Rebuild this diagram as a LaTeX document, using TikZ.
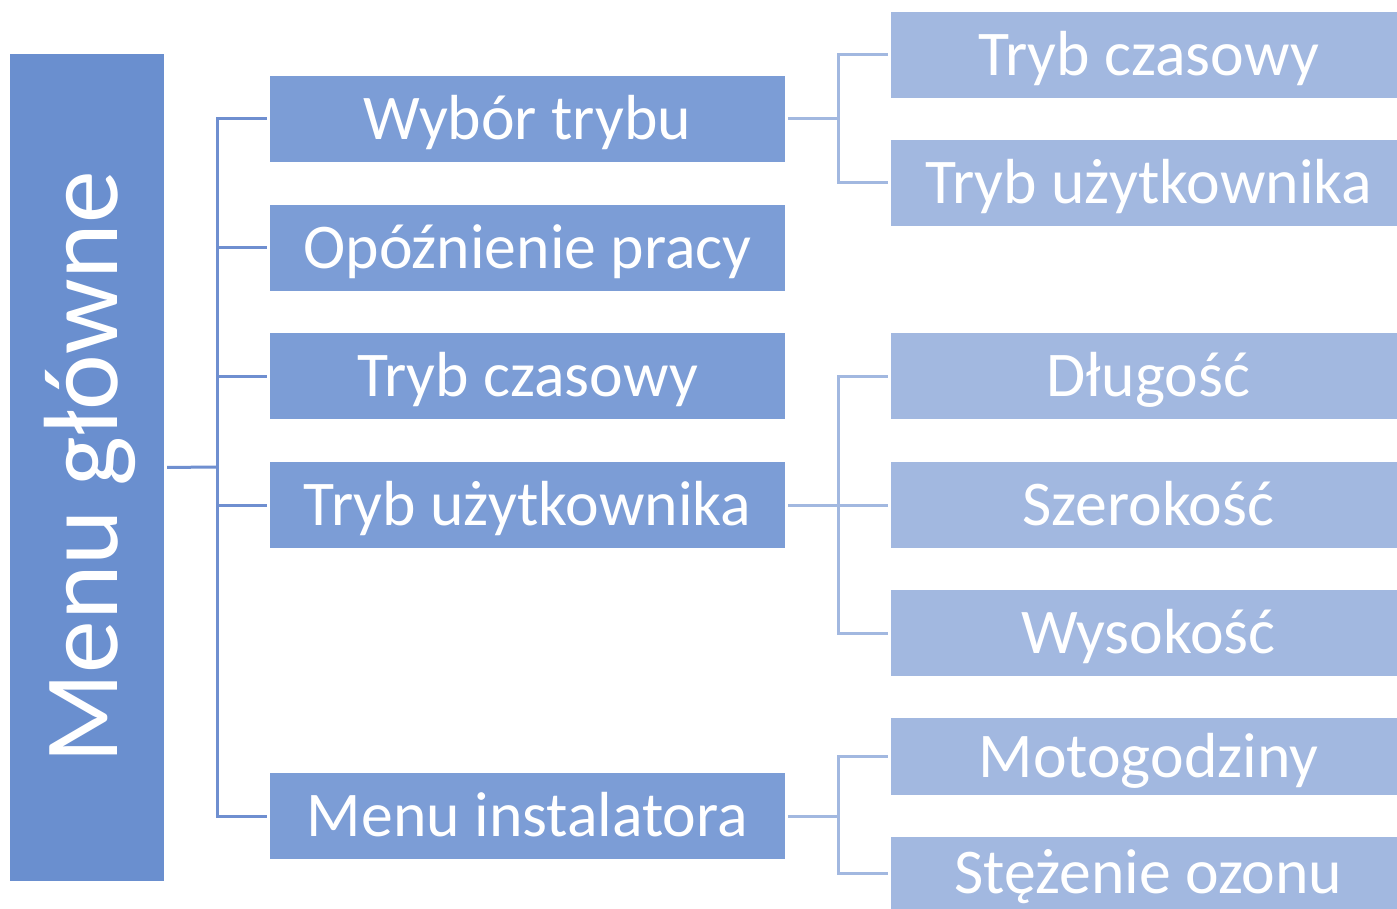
\documentclass[tikz,border=0pt]{standalone}
\usepackage{fontspec}
\setmainfont{Carlito}
\definecolor{mainfill}{HTML}{6A8FCF}
\definecolor{lvlone}{HTML}{7C9DD6}
\definecolor{lvltwo}{HTML}{A2B8E0}
\definecolor{conone}{HTML}{6F8FD0}
\definecolor{contwo}{HTML}{A2B8E0}
\begin{document}
\begin{tikzpicture}[x=1pt,y=-1pt,
  boxbase/.style={rectangle, inner sep=0pt, outer sep=0pt, text=white,
    font=\fontsize{63.7}{70}\selectfont, text height=41pt, text depth=0pt},
  boxone/.style={boxbase, fill=lvlone, minimum width=515pt, minimum height=86pt, anchor=west},
  boxtwo/.style={boxbase, fill=lvltwo, minimum width=515pt, anchor=west},
  linkone/.style={draw=conone, line width=3pt, shorten <=3pt, shorten >=3pt},
  linktwo/.style={draw=contwo, line width=3pt, shorten <=3pt, shorten >=3pt},
  linkonej/.style={draw=conone, line width=3pt, shorten >=3pt},
  linktwoj/.style={draw=contwo, line width=3pt, shorten >=3pt}]
\clip (0,0) rectangle (1397,909);
\fill[white] (0,0) rectangle (1397,909);
% main box
\node[rectangle, fill=mainfill, inner sep=0pt, minimum width=154pt, minimum height=827pt] (main) at (87,467.5) {};
\node[rotate=90, text=white, inner sep=0pt, font=\fontsize{105.6}{120}\selectfont, text height=68pt, text depth=0pt] (mainlabel) at (83,467.5) {Menu główne};
% level 1
\node[boxone] (a1) at (270,119) {Wybór trybu};
\node[boxone] (a2) at (270,248) {Opóźnienie pracy};
\node[boxone] (a3) at (270,376) {Tryb czasowy};
\node[boxone] (a4) at (270,505) {Tryb użytkownika};
\node[boxone] (a5) at (270,816) {Menu instalatora};
% level 2
\node[boxtwo, minimum height=86pt] (b1) at (891,55) {Tryb czasowy};
\node[boxtwo, minimum height=86pt] (b2) at (891,183) {Tryb użytkownika};
\node[boxtwo, minimum height=86pt] (b3) at (891,376) {Długość};
\node[boxtwo, minimum height=86pt] (b4) at (891,505) {Szerokość};
\node[boxtwo, minimum height=86pt] (b5) at (891,633) {Wysokość};
\node[boxtwo, minimum height=77pt] (b6) at (891,756.5) {Motogodziny};
\node[boxtwo, minimum height=72pt] (b7) at (891,873) {Stężenie ozonu};
% junctions
\coordinate (j1) at (217,467);
\coordinate (j2) at (838,119);
\coordinate (j3) at (838,505);
\coordinate (j4) at (838,816);
% level 1 connectors
\draw[linkone, shorten >=0pt] (main.east) -- (j1);
\foreach \n in {a1,a2,a3,a4,a5} \draw[linkonej] (j1) |- (\n.west);
% level 2 connectors
\draw[linktwo, shorten >=0pt] (a1.east) -- (j2);
\foreach \n in {b1,b2} \draw[linktwoj] (j2) |- (\n.west);
\draw[linktwo, shorten >=0pt] (a4.east) -- (j3);
\foreach \n in {b3,b4,b5} \draw[linktwoj] (j3) |- (\n.west);
\draw[linktwo, shorten >=0pt] (a5.east) -- (j4);
\foreach \n in {b6,b7} \draw[linktwoj] (j4) |- (\n.west);
\end{tikzpicture}
\end{document}
